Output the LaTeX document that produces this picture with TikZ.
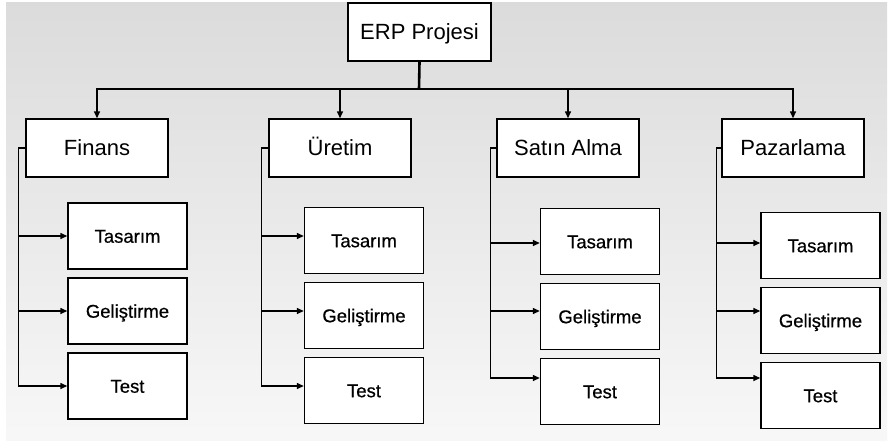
\documentclass[tikz,border=0pt]{standalone}
\usepackage{fontspec}
\setmainfont{Liberation Sans}
\newfontfamily\yarikalin[FakeBold=0.6]{Liberation Sans}
\usetikzlibrary{arrows.meta}

\tikzset{
  anakutu/.style={draw, line width=1.4pt, fill=white, inner sep=0pt,
    minimum width=142pt, minimum height=58pt, text height=15.8pt, text depth=0pt,
    font=\fontsize{22}{26}\selectfont},
  altkutu/.style={draw, line width=1.4pt, fill=white, inner sep=0pt,
    minimum width=119pt, minimum height=66pt, text height=13.4pt, text depth=0pt,
    font=\yarikalin\fontsize{18.5}{22}\selectfont},
  hat/.style={line width=1.4pt},
  ok/.style={hat, -{Triangle[length=7pt,width=6pt]}}
}

\begin{document}
\begin{tikzpicture}[x=1pt, y=-1pt]
        \useasboundingbox (0,0) rectangle (893,445);
        \fill[white] (0,0) rectangle (893,445);
        \shade[top color=black!14, bottom color=black!3] (6,2) rectangle (887,440);

        \node[anakutu, minimum width=143pt] (erp) at (419.5,32) {ERP Projesi};

        \node[anakutu] (finans) at (97,148)  {Finans};
        \node[anakutu] (uretim) at (340,148) {Üretim};
        \node[anakutu] (satin)  at (568,148) {Satın Alma};
        \node[anakutu] (pazar)  at (793,148) {Pazarlama};

        \coordinate (bus) at (419,89);
        \draw[line width=2.6pt] (erp.south) -- (bus);
        \draw[ok] (bus) -| (finans.north);
        \draw[ok] (bus) -| (uretim.north);
        \draw[ok] (bus) -| (satin.north);
        \draw[ok] (bus) -| (pazar.north);

        % Finans
        \node[altkutu] (f1) at (127.5,236) {Tasarım};
        \node[altkutu] (f2) at (127.5,311) {Geliştirme};
        \node[altkutu] (f3) at (127.5,386) {Test};
        \draw[ok] (finans.west) -- ++(-7,0) |- (f1.west);
        \draw[ok] (finans.west) -- ++(-7,0) |- (f2.west);
        \draw[ok] (finans.west) -- ++(-7,0) |- (f3.west);

        % Üretim
        \node[altkutu] (u1) at (364,240.5) {Tasarım};
        \node[altkutu] (u2) at (364,315.5) {Geliştirme};
        \node[altkutu] (u3) at (364,390.5) {Test};
        \draw[ok] (uretim.west) -- ++(-7,0) |- ([yshift=4.5pt]u1.west);
        \draw[ok] (uretim.west) -- ++(-7,0) |- ([yshift=4.5pt]u2.west);
        \draw[ok] (uretim.west) -- ++(-7,0) |- ([yshift=4.5pt]u3.west);

        % Satın Alma
        \node[altkutu] (s1) at (600,241.5) {Tasarım};
        \node[altkutu] (s2) at (600,316.5) {Geliştirme};
        \node[altkutu] (s3) at (600,391.5) {Test};
        \draw[ok] (satin.west) -- ++(-6,0) |- ([yshift=-1.5pt]s1.west);
        \draw[ok] (satin.west) -- ++(-6,0) |- ([yshift=5.5pt]s2.west);
        \draw[ok] (satin.west) -- ++(-6,0) |- ([yshift=13.5pt]s3.west);

        % Pazarlama
        \node[altkutu] (p1) at (820.5,245.5) {Tasarım};
        \node[altkutu] (p2) at (820.5,320.5) {Geliştirme};
        \node[altkutu] (p3) at (820.5,395.5) {Test};
        \draw[ok] (pazar.west) -- ++(-5,0) |- ([yshift=2.5pt]p1.west);
        \draw[ok] (pazar.west) -- ++(-5,0) |- ([yshift=9.5pt]p2.west);
        \draw[ok] (pazar.west) -- ++(-5,0) |- ([yshift=17.5pt]p3.west);
      \end{tikzpicture}
\end{document}
